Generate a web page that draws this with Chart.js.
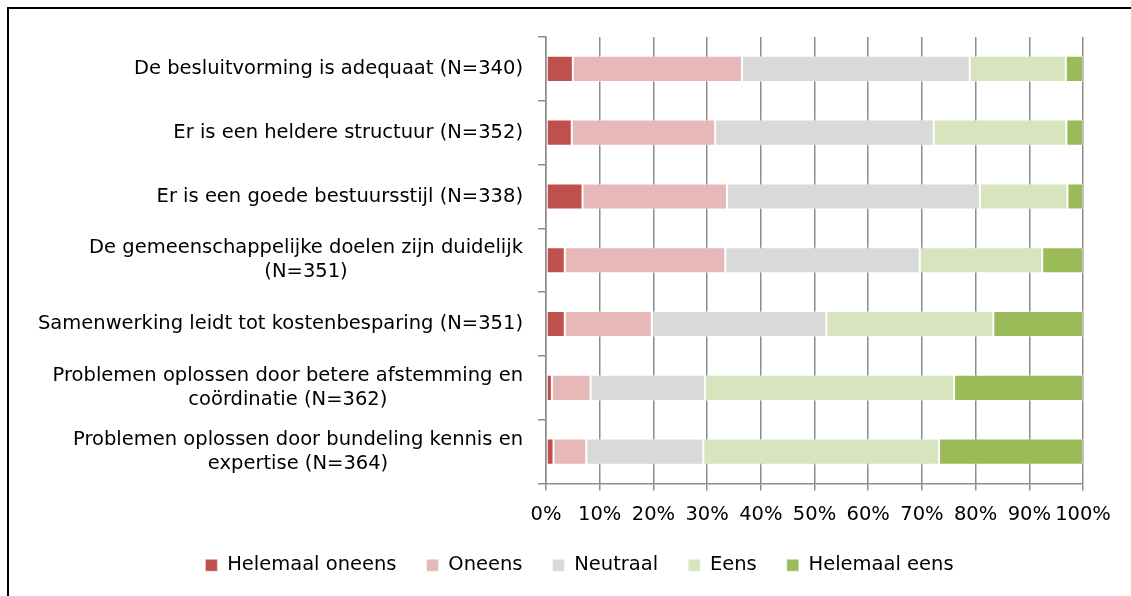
<!DOCTYPE html>
<html>
<head>
<meta charset="utf-8">
<script src="https://cdn.jsdelivr.net/npm/chart.js@4/dist/chart.umd.min.js"></script>
<style>
  html, body { margin: 0; padding: 0; background: #fff; overflow: hidden; }
  #frame { position: absolute; left: 7px; top: 7px; width: 1140px; height: 600px; border: 2px solid #000; }
  #mycanvas { position: absolute; left: 0; top: 0; }
</style>
</head>
<body>
<div id="frame"></div>
<canvas id="mycanvas" width="1131" height="596"></canvas>
<script>
var categories = [
  'De besluitvorming is adequaat (N=340)',
  'Er is een heldere structuur (N=352)',
  'Er is een goede bestuursstijl (N=338)',
  ['De gemeenschappelijke doelen zijn duidelijk', '(N=351)'],
  'Samenwerking leidt tot kostenbesparing (N=351)',
  ['Problemen oplossen door betere afstemming en', 'coördinatie (N=362)'],
  ['Problemen oplossen door bundeling kennis en', 'expertise (N=364)']
];

var helemaalOneens = [5.0, 4.8, 6.8, 3.5, 3.5, 1.1, 1.4];
var oneens         = [31.5, 26.7, 26.9, 29.9, 16.2, 7.2, 6.1];
var neutraal       = [42.4, 40.7, 47.1, 36.2, 32.5, 21.3, 21.8];
var eens           = [17.9, 24.7, 16.3, 22.8, 31.1, 46.4, 43.9];
var helemaalEens   = [3.2, 3.1, 2.9, 7.6, 16.7, 24.0, 26.8];

var seriesNames = ['Helemaal oneens', 'Oneens', 'Neutraal', 'Eens', 'Helemaal eens'];
var seriesColors = ['#C0504D', '#E6B9B8', '#D9D9D9', '#D7E4BD', '#9BBB59'];

var FONT = 'DejaVu Sans';
var FSIZE = 19.5;

// y labels: single lines right aligned, wrapped labels centered as a block
var labelPlugin = {
  id: 'ylabels',
  afterDraw: function(chart) {
    var scale = chart.scales.y;
    var ctx = chart.ctx;
    var xRight = scale.right - 23;
    ctx.save();
    ctx.font = FSIZE + 'px "' + FONT + '"';
    ctx.fillStyle = '#000';
    ctx.textBaseline = 'middle';
    ctx.textAlign = 'center';
    for (var i = 0; i < categories.length; i++) {
      var lines = Array.isArray(categories[i]) ? categories[i] : [categories[i]];
      var w = 0;
      for (var j = 0; j < lines.length; j++) w = Math.max(w, ctx.measureText(lines[j]).width);
      var cy = scale.getPixelForTick(i);
      var lh = 24;
      var y0 = cy - (lines.length - 1) * lh / 2;
      for (var j = 0; j < lines.length; j++) {
        ctx.fillText(lines[j], xRight - w / 2, y0 + j * lh);
      }
    }
    ctx.restore();
  }
};

var data = [helemaalOneens, oneens, neutraal, eens, helemaalEens];
var datasets = [];
for (var k = 0; k < seriesNames.length; k++) {
  datasets.push({
    label: seriesNames[k],
    data: data[k],
    backgroundColor: seriesColors[k],
    borderColor: 'rgba(255,255,255,0.45)',
    borderWidth: 1,
    borderSkipped: false,
    barPercentage: 0.41,
    categoryPercentage: 1.0
  });
}

Chart.defaults.font.family = FONT;
Chart.defaults.font.size = FSIZE;
Chart.defaults.color = '#000';

var ctx = document.getElementById('mycanvas');
new Chart(ctx, {
  type: 'bar',
  data: { labels: categories, datasets: datasets },
  options: {
    indexAxis: 'y',
    responsive: false,
    animation: false,
    layout: { padding: { left: 76, right: 48, top: 37, bottom: 11 } },
    plugins: {
      legend: {
        position: 'bottom',
        labels: { boxWidth: 12, boxHeight: 12, padding: 30 }
      },
      tooltip: { enabled: false }
    },
    scales: {
      x: {
        stacked: true,
        min: 0,
        max: 100,
        ticks: {
          stepSize: 10,
          padding: 13,
          maxRotation: 0,
          minRotation: 0,
          autoSkip: false,
          callback: function(v) { return v + '%'; }
        },
        grid: { color: '#8c8c8c', lineWidth: 1.5, tickLength: 7, drawTicks: true },
        border: { color: '#8c8c8c', width: 1.5 },
        afterFit: function(s) { s.height = 42; }
      },
      y: {
        stacked: true,
        ticks: { display: false },
        grid: { drawOnChartArea: false, color: '#8c8c8c', lineWidth: 1.5, tickLength: 8, offset: true },
        border: { color: '#8c8c8c', width: 1.5 },
        afterFit: function(s) { s.width = 470; }
      }
    }
  },
  plugins: [labelPlugin]
});
</script>
</body>
</html>
